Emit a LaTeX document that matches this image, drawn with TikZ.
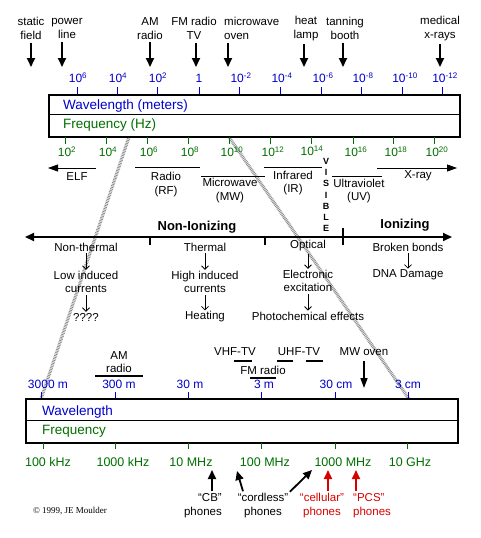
\documentclass[tikz,border=0pt]{standalone}
\usepackage{fontspec}
\setmainfont{Liberation Sans}
\newfontfamily\cpfont{Liberation Serif}
\usetikzlibrary{arrows.meta}
\definecolor{wlblue}{RGB}{0,0,204}
\definecolor{fqgreen}{RGB}{0,110,0}
\definecolor{phred}{RGB}{214,0,0}
\newcommand{\tp}[1]{10\textsuperscript{#1}}

\begin{document}
\begin{tikzpicture}[x=1pt, y=-1pt,
        lbl/.style={font=\fontsize{11.5}{13.5}\selectfont, align=center, inner sep=0pt},
        num/.style={font=\fontsize{12}{13}\selectfont, inner sep=0pt},
        wl/.style={num, text=wlblue},
        fq/.style={num, text=fqgreen},
        fqw/.style={fq, font=\fontsize{12.5}{13}\selectfont},
        boxlbl/.style={font=\fontsize{13.5}{15}\selectfont, anchor=west, inner sep=0pt},
        ionlbl/.style={font=\fontsize{13}{15}\selectfont\bfseries, inner sep=0pt},
        specbox/.style={draw, line width=2.5pt},
        arrow/.style={-{Triangle[width=8pt,length=9pt]}, line width=1.8pt},
        sarrow/.style={-{Straight Barb[width=7pt,length=3.5pt]}, line width=0.8pt, shorten <=2pt, shorten >=1pt},
        zoomline/.style={draw=gray!90, line width=3.2pt, dash pattern=on 0.8pt off 0.8pt},
        bandline/.style={draw, line width=0.8pt}
    ]
        \useasboundingbox (0,0) rectangle (481,538);

        % Zoom lines
        \draw[zoomline] (129,137) -- (41,399);
        \draw[zoomline] (229,137) -- (409,399);

        % Sources
        \node[lbl] (stat) at (31,28.5) {static\\field};
        \node[lbl] (pwr) at (67,28.5) {power\\line};
        \node[lbl] (amr) at (150,28.5) {AM\\radio};
        \node[lbl] (fmtv) at (194,28.5) {FM radio\\TV};
        \node[lbl, align=left, anchor=west] (mwo) at (224,28.5) {microwave\\oven};
        \node[lbl] (heat) at (306,28.5) {heat\\lamp};
        \node[lbl] (tan) at (345,28.5) {tanning\\booth};
        \node[lbl] (med) at (440,28.5) {medical\\x-rays};

        \coordinate (statT) at (31,67);
        \coordinate (pwrT) at (62,67);
        \coordinate (amrT) at (150,67);
        \coordinate (fmtvT) at (196,67);
        \coordinate (mwoT) at (228,67);
        \coordinate (heatT) at (304,67);
        \coordinate (tanT) at (343,67);
        \coordinate (medT) at (440,67);

        \draw[arrow, shorten <=3pt] (statT |- stat.south) -- (statT);
        \draw[arrow, shorten <=3pt] (pwrT |- pwr.south) -- (pwrT);
        \draw[arrow, shorten <=3pt] (amrT |- amr.south) -- (amrT);
        \draw[arrow, shorten <=3pt] (fmtvT |- fmtv.south) -- (fmtvT);
        \draw[arrow, shorten <=3pt] (mwoT |- mwo.south) -- (mwoT);
        \draw[arrow, shorten <=3pt] (heatT |- heat.south) -- (heatT);
        \draw[arrow, shorten <=3pt] (tanT |- tan.south) -- (tanT);
        \draw[arrow, shorten <=3pt] (medT |- med.south) -- (medT);

        % Wavelength scale (meters)
        \node[wl] (w6) at (78,78) {\tp{6}};
        \node[wl] (w4) at (118,78) {\tp{4}};
        \node[wl] (w2) at (158,78) {\tp{2}};
        \node[wl] (w0) at (199,78) {1};
        \node[wl] (wm2) at (241,78) {\tp{-2}};
        \node[wl] (wm4) at (282,78) {\tp{-4}};
        \node[wl] (wm6) at (323,78) {\tp{-6}};
        \node[wl] (wm8) at (363,78) {\tp{-8}};
        \node[wl] (wm10) at (405,78) {\tp{-10}};
        \node[wl] (wm12) at (445,78) {\tp{-12}};
        \draw[wlblue, line width=0.8pt] (77,87) -- (77,95) (117,87) -- (117,95) (157,87) -- (157,95)
            (199,87) -- (199,95) (239,87) -- (239,95) (280,87) -- (280,95) (321,87) -- (321,95)
            (361,87) -- (361,95) (402,87) -- (402,95) (442,87) -- (442,95);

        % Spectrum box
        \draw[specbox] (49,95) rectangle (460,137);
        \draw[line width=0.8pt] (49,114) -- (460,114);
        \node[boxlbl, text=wlblue] (wlb) at (63,106) {Wavelength (meters)};
        \node[boxlbl, text=fqgreen] (fqb) at (63,125) {Frequency (Hz)};

        % Frequency scale (Hz)
        \draw[fqgreen, line width=0.8pt] (65,137) -- (65,144) (106,137) -- (106,144) (147,137) -- (147,144)
            (188,137) -- (188,144) (229,137) -- (229,144) (270,137) -- (270,144) (311,137) -- (311,144)
            (353,137) -- (353,144) (393,137) -- (393,144) (434,137) -- (434,144);
        \node[fq] (f2) at (67,152) {\tp{2}};
        \node[fq] (f4) at (108,152) {\tp{4}};
        \node[fq] (f6) at (149,152) {\tp{6}};
        \node[fq] (f8) at (190,152) {\tp{8}};
        \node[fq] (f10) at (232,152) {\tp{10}};
        \node[fq] (f12) at (273,152) {\tp{12}};
        \node[fq] (f14) at (312,151) {\tp{14}};
        \node[fq] (f16) at (356,152) {\tp{16}};
        \node[fq] (f18) at (396,152) {\tp{18}};
        \node[fq] (f20) at (437,152) {\tp{20}};

        % Bands
        \coordinate (elfL) at (48,168);
        \coordinate (xrayR) at (457,168);
        \draw[bandline, {Triangle[width=7pt,length=10pt]}-] (elfL) -- (96,168);
        \draw[bandline, -{Triangle[width=7pt,length=10pt]}] (377,168) -- (xrayR);
        \draw[bandline] (135,167) -- (200,167) (264,167) -- (322,167)
            (201,176) -- (265,176) (332,176) -- (382,176);
        \node[lbl] (elf) at (77,177) {ELF};
        \node[lbl] (rf) at (166,184.5) {Radio\\(RF)};
        \node[lbl] (mw) at (230,190.5) {Microwave\\(MW)};
        \node[lbl] (ir) at (293,183) {Infrared\\(IR)};
        \node[lbl] (uv) at (359,191) {Ultraviolet\\(UV)};
        \node[lbl] (xray) at (418,176) {X-ray};
        \node[font=\fontsize{9}{11.1}\selectfont\bfseries, align=center, inner sep=0pt] (vis) at (326,195) {V\\I\\S\\I\\B\\L\\E};

        % Ionizing axis
        \coordinate (ionL) at (25,237);
        \coordinate (ionR) at (452,237);
        \draw[{Triangle[width=8pt,length=9pt]}-{Triangle[width=8pt,length=9pt]}, line width=1.8pt] (ionL) -- (ionR);
        \draw[line width=1.8pt] (150,237) -- (150,245) (265,237) -- (265,245) (343,228) -- (343,245);
        \node[ionlbl] (nonion) at (197,227) {Non-Ionizing};
        \node[ionlbl] (ion) at (405,225) {Ionizing};

        % Effects
        \node[lbl] (nth) at (86,247) {Non-thermal};
        \node[lbl] (lowc) at (86,282) {Low induced\\currents};
        \node[lbl] (unk) at (86,317) {????};
        \node[lbl] (th) at (205,247) {Thermal};
        \node[lbl] (highc) at (205,282) {High induced\\currents};
        \node[lbl] (heatg) at (205,317) {Heating};
        \node[lbl] (opt) at (308,246) {Optical};
        \node[lbl] (exc) at (308,281) {Electronic\\excitation};
        \node[lbl] (photo) at (308,316) {Photochemical effects};
        \node[lbl] (bb) at (408,247) {Broken bonds};
        \node[lbl] (dna) at (408,275) {DNA Damage};
        \draw[sarrow] (nth) -- (lowc);
        \draw[sarrow] (lowc) -- (unk);
        \draw[sarrow] (th) -- (highc);
        \draw[sarrow] (highc) -- (heatg);
        \draw[sarrow] (opt) -- (exc);
        \draw[sarrow] (exc) -- (photo);
        \draw[sarrow] (bb) -- (dna);

        % Radio services
        \node[lbl] (amb) at (119,362) {AM\\radio};
        \node[lbl] (vhf) at (235,352) {VHF-TV};
        \node[lbl] (uhf) at (299,352) {UHF-TV};
        \node[lbl] (fmb) at (263,370) {FM radio};
        \node[lbl] (mwov) at (364,352) {MW oven};
        \draw[line width=1.5pt] (95,376) -- (143,376) (234,361) -- (252,361)
            (277,361) -- (293,361) (306,361) -- (323,361) (250,378) -- (276,378);
        \coordinate (mwovT) at (364,388);
        \draw[-{Triangle[width=7pt,length=10pt]}, line width=1.5pt, shorten <=5pt] (mwov.south) -- (mwovT);

        % Wavelength scale (m)
        \node[wl] (l3000) at (48,384) {3000 m};
        \node[wl] (l300) at (119,384) {300 m};
        \node[wl] (l30) at (190,384) {30 m};
        \node[wl] (l3) at (264,384) {3 m};
        \node[wl] (l30c) at (336,384) {30 cm};
        \node[wl] (l3c) at (408,384) {3 cm};
        \draw[wlblue, line width=0.8pt] (41,392) -- (41,399) (115,392) -- (115,399) (188,392) -- (188,399)
            (261,392) -- (261,399) (335,392) -- (335,399) (408,392) -- (408,399);

        % Radio box
        \draw[specbox] (26,399) rectangle (458,443);
        \draw[line width=0.8pt] (26,420) -- (458,420);
        \node[boxlbl, text=wlblue] (wlb2) at (42,412) {Wavelength};
        \node[boxlbl, text=fqgreen] (fqb2) at (42,431) {Frequency};

        % Frequency scale (Hz)
        \draw[fqgreen, line width=0.8pt] (43,443) -- (43,449) (115,443) -- (115,449) (188,443) -- (188,449)
            (261,443) -- (261,449) (335,443) -- (335,449) (407,443) -- (407,449);
        \node[fqw] (k100) at (48,462) {100 kHz};
        \node[fqw] (k1000) at (123,462) {1000 kHz};
        \node[fqw] (m10) at (191,462) {10 MHz};
        \node[fqw] (m100) at (265,462) {100 MHz};
        \node[fqw] (m1000) at (343,462) {1000 MHz};
        \node[fqw] (g10) at (410,462) {10 GHz};

        % Phones
        \node[lbl, align=right, anchor=east] (cb) at (222,505.5) {``CB''\\phones};
        \node[lbl] (cord) at (263,505.5) {``cordless''\\phones};
        \node[lbl, text=phred] (cell) at (322,505.5) {``cellular''\\phones};
        \node[lbl, text=phred, align=left, anchor=west] (pcs) at (353,505.5) {``PCS''\\phones};
        \coordinate (cbT) at (212,470);
        \coordinate (cordT) at (237,471);
        \coordinate (ghzT) at (312,470);
        \coordinate (cellT) at (328,470);
        \coordinate (pcsT) at (356,470);
        \draw[arrow, shorten <=2pt] (cbT |- cb.north) -- (cbT);
        \draw[arrow, shorten <=2pt] ([xshift=6pt]cord.north west) -- (cordT);
        \draw[arrow, shorten <=2pt] (cord.north east) -- (ghzT);
        \draw[arrow, phred, shorten <=2pt] (cellT |- cell.north) -- (cellT);
        \draw[arrow, phred, shorten <=2pt] (pcsT |- pcs.north) -- (pcsT);

        % Credit
        \node[font=\cpfont\fontsize{9}{10}\selectfont, inner sep=0pt] (credit) at (70,511) {\textcopyright\ 1999, JE Moulder};
    \end{tikzpicture}
\end{document}
